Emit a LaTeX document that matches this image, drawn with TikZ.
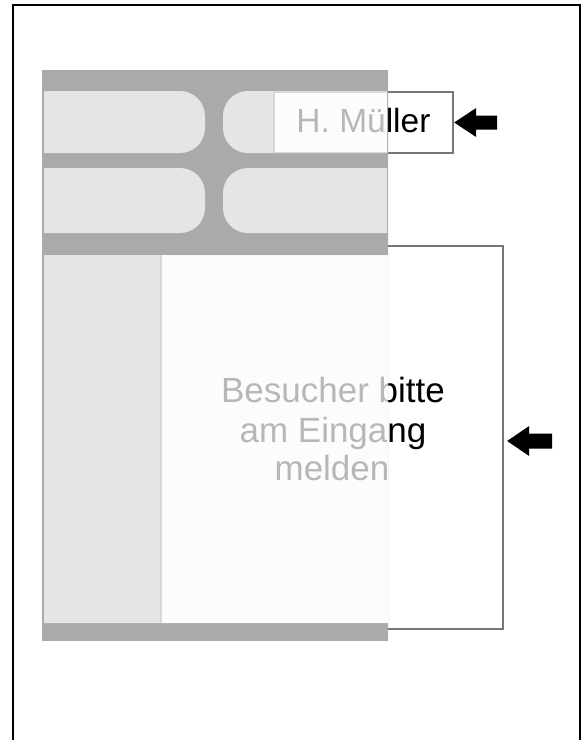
\documentclass[tikz,border=0pt]{standalone}
\usepackage{fontspec}
\setmainfont{Liberation Sans}
\usetikzlibrary{calc}

\definecolor{panelgray}{HTML}{AAAAAA}
\definecolor{cardtint}{HTML}{FCFCFC}
\definecolor{boxline}{HTML}{777777}

% outlines of the light cards inside the panel (one pixel = one pt, y grows downwards)
\newcommand\cardoutlines{%
  (44,91) -- (180,91) arc[start angle=-90, end angle=0, radius=25]
    -- (205,128) arc[start angle=0, end angle=90, radius=25] -- (44,153) -- cycle
  (387,91) -- (248,91) arc[start angle=-90, end angle=-180, radius=25]
    -- (223,128) arc[start angle=180, end angle=90, radius=25] -- (387,153) -- cycle
  (44,168) -- (180,168) arc[start angle=-90, end angle=0, radius=25]
    -- (205,208) arc[start angle=0, end angle=90, radius=25] -- (44,233) -- cycle
  (387,168) -- (248,168) arc[start angle=-90, end angle=-180, radius=25]
    -- (223,208) arc[start angle=180, end angle=90, radius=25] -- (387,233) -- cycle
  (44,255) rectangle (388,623)%
}

\begin{document}
\begin{tikzpicture}[x=1pt,y=-1pt,
  labelbox/.style={draw=boxline, line width=1.3pt, fill=white, inner sep=0pt},
  boxtext/.style={anchor=base, inner sep=0pt, text=black},
  pointer/.style={fill=black, draw=none}]
\useasboundingbox (0,0) rectangle (585,740);

% outer frame, open at the bottom
\draw[line width=2.6pt] (13,745) -- (13,5) -- (580,5) -- (580,745);

% panel background
\fill[panelgray] (42,70) rectangle (388,640);

% label boxes lying under the panel
\node[labelbox, minimum width=179pt, minimum height=61pt] (mueller) at (363.5,122.5) {};
\node[boxtext, font=\fontsize{33.5}{40}\selectfont] (muellertext) at (363.5,132.7) {H. Müller};

\node[labelbox, minimum width=342pt, minimum height=383pt] (notice) at (332,437.5) {};
\node[boxtext, font=\fontsize{35}{40}\selectfont] (noticeA) at (333,402) {Besucher bitte};
\node[boxtext, font=\fontsize{35}{40}\selectfont] (noticeB) at (333,442) {am Eingang};
\node[boxtext, font=\fontsize{35}{40}\selectfont] (noticeC) at (332,480) {melden};

% gray bars of the panel cover the boxes, the cards let them show through faintly
\begin{scope}
  \clip (42,70) rectangle (388,640);
  \fill[panelgray, even odd rule] (30,60) rectangle (400,650) \cardoutlines;
  \fill[cardtint, fill opacity=0.73] \cardoutlines;
\end{scope}

% block arrows pointing at the boxes
\coordinate (tipA) at ($(mueller.east)+(0.5,0)$);
\fill[pointer] (tipA) -- ++(22,-14.5) -- ++(0,7.5) -- ++(21,0) -- ++(0,14)
  -- ++(-21,0) -- ++(0,7.5) -- cycle;

\coordinate (tipB) at ($(notice.east)+(3.5,3.5)$);
\fill[pointer] (tipB) -- ++(22,-15) -- ++(0,7.5) -- ++(23,0) -- ++(0,15)
  -- ++(-23,0) -- ++(0,7.5) -- cycle;
\end{tikzpicture}
\end{document}
